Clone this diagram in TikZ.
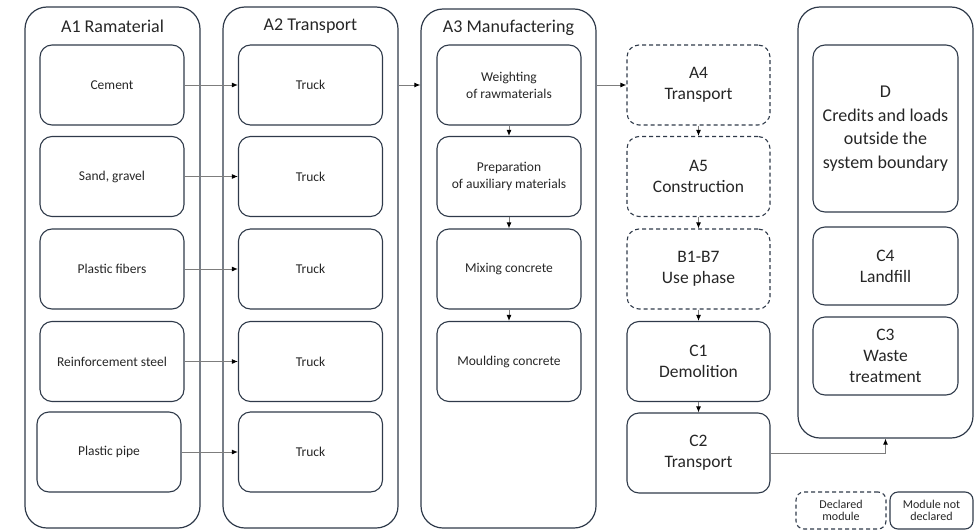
\documentclass[tikz,border=0pt]{standalone}
\usepackage{fontspec}
\setmainfont{Carlito}
\usetikzlibrary{arrows.meta}

\definecolor{boxline}{RGB}{47,58,74}
\definecolor{flowline}{RGB}{125,125,125}
\definecolor{txt}{RGB}{38,38,38}

\tikzset{
  stage/.style={draw=boxline, line width=1.2pt, rounded corners=22pt,
    minimum width=175pt, inner sep=0pt},
  proc/.style={draw=boxline, line width=1.1pt, rounded corners=12pt,
    minimum width=144pt, minimum height=80pt, inner sep=0pt, align=center,
    text=txt, font=\fontsize{13.5}{17}\selectfont},
  bigproc/.style={proc, font=\fontsize{17.5}{21}\selectfont},
  decl/.style={bigproc, dash pattern=on 4pt off 3pt},
  title/.style={text=txt, font=\fontsize{18}{22}\selectfont},
  legend/.style={draw=boxline, line width=1.1pt, rounded corners=8pt,
    minimum height=37pt, inner sep=0pt, align=center, text=txt,
    font=\fontsize{12}{12.5}\selectfont},
  flow/.style={draw=flowline, line width=1pt,
    -{Latex[length=6pt,width=5pt,color=black]}}
}

\begin{document}
\begin{tikzpicture}[x=1pt,y=-1pt]
            \useasboundingbox (0,0) rectangle (977,530);

            % the three stage columns
            \node[stage, minimum height=521pt] (a1) at (112.5,267.5) {};
            \node[stage, minimum height=521pt] (a2) at (310.5,267.5) {};
            \node[stage, minimum height=519pt] (a3) at (508.5,268.5) {};
            \node[title] (a1t) at (112.5,26) {A1 Ramaterial};
            \node[title] (a2t) at (310.5,26) {A2 Transport};
            \node[title] (a3t) at (508.5,28) {A3 Manufactering};

            % raw materials
            \node[proc] (rm1) at (112,85) {Cement};
            \node[proc] (rm2) at (112,176.5) {Sand, gravel};
            \node[proc] (rm3) at (112,269) {Plastic fibers};
            \node[proc] (rm4) at (112,361.5) {Reinforcement steel};
            \node[proc] (rm5) at (109,452) {Plastic pipe};

            % one truck for each raw material
            \foreach \n/\y in {1/85,2/176.5,3/269,4/361.5,5/452}
            \node[proc] (tr\n) at (310.5,\y) {Truck};
            \foreach \n in {1,...,5}
            \draw[flow] (rm\n.east) -- (tr\n.west);

            % manufacturing steps
            \node[proc] (mf1) at (509,85) {Weighting\\of rawmaterials};
            \node[proc] (mf2) at (509,176.5) {Preparation\\of auxiliary materials};
            \node[proc] (mf3) at (509,269) {Mixing concrete};
            \node[proc] (mf4) at (509,361.5) {Moulding concrete};
            \foreach \a/\b in {mf1/mf2,mf2/mf3,mf3/mf4}
            \draw[flow] (\a.south) -- (\b.north);

            % A4 to C2
            \node[decl, minimum width=143pt] (a4) at (698.5,85) {A4\\Transport};
            \node[decl, minimum width=143pt] (a5) at (698.5,176.5) {A5\\Construction};
            \node[decl, minimum width=143pt] (b17) at (698.5,269) {B1-B7\\Use phase};
            \node[bigproc, minimum width=143pt] (c1) at (698.5,361.5) {C1\\Demolition};
            \node[bigproc, minimum width=143pt] (c2) at (698.5,453) {C2\\Transport};
            \foreach \a/\b in {a4/a5,a5/b17,b17/c1,c1/c2}
            \draw[flow] (\a.south) -- (\b.north);

            % end of life and module D
            \node[stage, minimum height=431pt] (dst) at (885.5,222.5) {};
            \node[bigproc, minimum width=145pt, minimum height=167pt,
              font=\fontsize{18}{23.5}\selectfont] (dmod) at (885.5,128.5)
              {D\\Credits and loads\\outside the\\system boundary};
            \node[bigproc, minimum width=145pt, minimum height=78pt] (c4) at (885.5,266) {C4\\Landfill};
            \node[bigproc, minimum width=145pt, minimum height=78pt] (c3) at (885.5,356) {C3\\Waste\\treatment};

            % links between the columns
            \draw[flow] (a2.east |- tr1.east) -- (a3.west |- tr1.east);
            \draw[flow] (a3.east |- a4.west) -- (a4.west);
            \draw[flow] (c2.east) -| (dst.south);

            % legend
            \node[legend, dash pattern=on 4pt off 3pt, minimum width=90pt] (ldecl) at (841,510.5) {Declared\\module};
            \node[legend, minimum width=83pt] (lnot) at (931.5,510.5) {Module not\\declared};
\end{tikzpicture}
\end{document}
